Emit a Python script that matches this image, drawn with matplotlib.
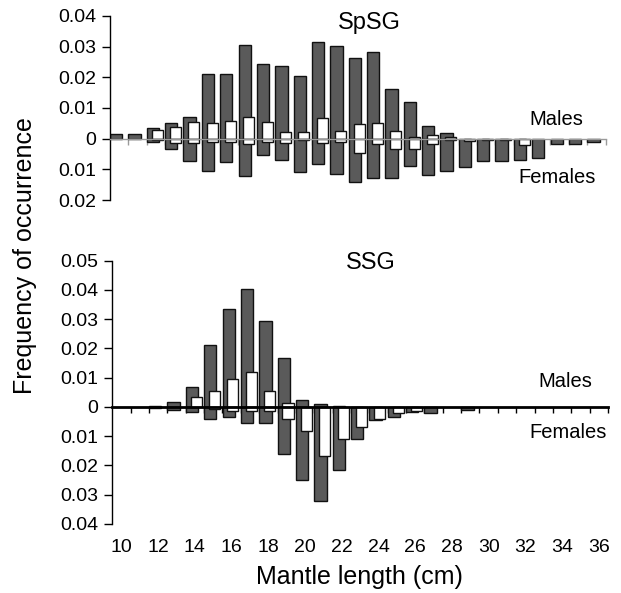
import matplotlib
matplotlib.use("Agg")
import matplotlib.pyplot as plt
import numpy as np

plt.rcParams["font.family"] = ["Liberation Sans", "DejaVu Sans"]

# mantle length classes (cm)
lengths = np.arange(10, 37)

# SpSG: dark and white series, males (up) and females (down, plotted negative)
spsg_dark_males = [0.0014, 0.0014, 0.0035, 0.0051, 0.0071, 0.0212, 0.0212, 0.0305, 0.0245,
                   0.0236, 0.0203, 0.0316, 0.0301, 0.0264, 0.0283, 0.0162, 0.0120, 0.0041,
                   0.0019, 0, 0, 0, 0, 0, 0, 0, 0]
spsg_dark_females = [0, 0, 0.0010, 0.0035, 0.0073, 0.0105, 0.0077, 0.0121, 0.0052,
                     0.0068, 0.0109, 0.0082, 0.0114, 0.0141, 0.0129, 0.0129, 0.0089, 0.0120,
                     0.0105, 0.0092, 0.0073, 0.0073, 0.0068, 0.0062, 0.0017, 0.0017, 0.0012]
spsg_white_males = [0, 0, 0.0027, 0.0038, 0.0053, 0.0050, 0.0058, 0.0071, 0.0053,
                    0.0022, 0.0022, 0.0066, 0.0026, 0.0049, 0.0052, 0.0025, 0.0006, 0.0012,
                    0.0006, 0, 0, 0, 0, 0, 0, 0, 0]
spsg_white_females = [0, 0, 0.0005, 0.0013, 0.0013, 0.0010, 0.0010, 0.0018, 0.0010,
                      0.0013, 0.0005, 0.0013, 0.0010, 0.0046, 0.0016, 0.0033, 0.0035, 0.0018,
                      0.0005, 0.0006, 0.0004, 0.0004, 0.0022, 0, 0, 0, 0]

# SSG
ssg_dark_males = [0, 0, 0.0003, 0.0016, 0.0069, 0.0211, 0.0335, 0.0403, 0.0293,
                  0.0169, 0.0025, 0.0009, 0.0003, 0, 0, 0, 0, 0,
                  0, 0, 0, 0, 0, 0, 0, 0, 0]
ssg_dark_females = [0, 0, 0.0002, 0.0011, 0.0017, 0.0040, 0.0034, 0.0054, 0.0054,
                    0.0162, 0.0249, 0.0320, 0.0214, 0.0111, 0.0045, 0.0033, 0.0016, 0.0019,
                    0, 0.0010, 0, 0, 0, 0, 0, 0, 0]
ssg_white_males = [0, 0, 0, 0, 0.0034, 0.0055, 0.0095, 0.0119, 0.0055,
                   0.0013, 0, 0, 0, 0, 0, 0, 0, 0,
                   0, 0, 0, 0, 0, 0, 0, 0, 0]
ssg_white_females = [0, 0, 0, 0, 0, 0.0008, 0.0014, 0.0014, 0.0014,
                     0.0040, 0.0082, 0.0167, 0.0111, 0.0069, 0.0040, 0.0019, 0.0014, 0,
                     0, 0, 0, 0, 0, 0, 0, 0, 0]

DARK = "#5a5a5a"
W, H = 621, 593


def draw_bars(ax, vals, offset, width, color, sign):
    v = np.asarray(vals)
    m = v > 0
    ax.bar(lengths[m] + offset, sign * v[m], width=width, color=color,
           edgecolor="#111111", linewidth=1.0, zorder=2 if color == DARK else 3)


def setup(ax, ylo, yhi, zcolor, zwidth):
    ax.set_xlim(9.5, 36.5)
    ax.set_ylim(ylo, yhi)
    ax.set_yticks(np.round(np.arange(ylo, yhi + 0.001, 0.01), 2))
    ax.yaxis.set_major_formatter(plt.FuncFormatter(
        lambda v, p: "0" if abs(v) < 1e-9 else f"{abs(v):.2f}"))
    for s in ["top", "right"]:
        ax.spines[s].set_visible(False)
    ax.spines["left"].set_linewidth(1.0)
    ax.spines["bottom"].set_position(("data", 0))
    ax.spines["bottom"].set_color(zcolor)
    ax.spines["bottom"].set_linewidth(zwidth)
    ax.spines["bottom"].set_zorder(4)
    ax.set_xticks([])
    ax.set_xticks(np.arange(10.5, 37, 1), minor=True)
    ax.tick_params(axis="x", which="minor", direction="out", length=4,
                   width=1, color=zcolor, labelbottom=False)
    ax.tick_params(axis="y", direction="out", length=6, width=1, labelsize=14, pad=4)


fig = plt.figure(figsize=(W / 100, H / 100), dpi=100)
ax1 = fig.add_axes([110 / W, 1 - 200 / H, 495.5 / W, 184 / H])
ax2 = fig.add_axes([112.3 / W, 1 - 524 / H, 495.7 / W, 263.3 / H])

for ax, dm, df, wm, wf in [
    (ax1, spsg_dark_males, spsg_dark_females, spsg_white_males, spsg_white_females),
    (ax2, ssg_dark_males, ssg_dark_females, ssg_white_males, ssg_white_females),
]:
    draw_bars(ax, dm, -0.16, 0.67, DARK, 1)
    draw_bars(ax, df, -0.16, 0.67, DARK, -1)
    draw_bars(ax, wm, 0.07, 0.60, "white", 1)
    draw_bars(ax, wf, 0.07, 0.60, "white", -1)

setup(ax1, -0.02, 0.04, "#9a9a9a", 1.0)
setup(ax2, -0.04, 0.05, "black", 2.0)

sec = ax2.secondary_xaxis(0.0)
sec.set_xticks(np.arange(10, 37, 2))
sec.tick_params(length=0, pad=11, labelsize=14)
sec.spines["bottom"].set_visible(False)

ax1.text(0.524, 0.962, "SpSG", transform=ax1.transAxes, ha="center", va="center", fontsize=17)
ax1.text(0.9015, 0.435, "Males", transform=ax1.transAxes, ha="center", va="center", fontsize=14.5)
ax1.text(0.902, 0.12, "Females", transform=ax1.transAxes, ha="center", va="center", fontsize=14.5)
ax2.text(0.522, 0.99, "SSG", transform=ax2.transAxes, ha="center", va="center", fontsize=17)
ax2.text(0.914, 0.543, "Males", transform=ax2.transAxes, ha="center", va="center", fontsize=14.5)
ax2.text(0.92, 0.3475, "Females", transform=ax2.transAxes, ha="center", va="center", fontsize=14.5)

fig.text(25 / W, 1 - 256 / H, "Frequency of occurrence", rotation=90,
         ha="center", va="center", fontsize=18)
fig.text(359 / W, 1 - 577 / H, "Mantle length (cm)", ha="center", va="center", fontsize=18)

fig.savefig("out.png", dpi=100)
